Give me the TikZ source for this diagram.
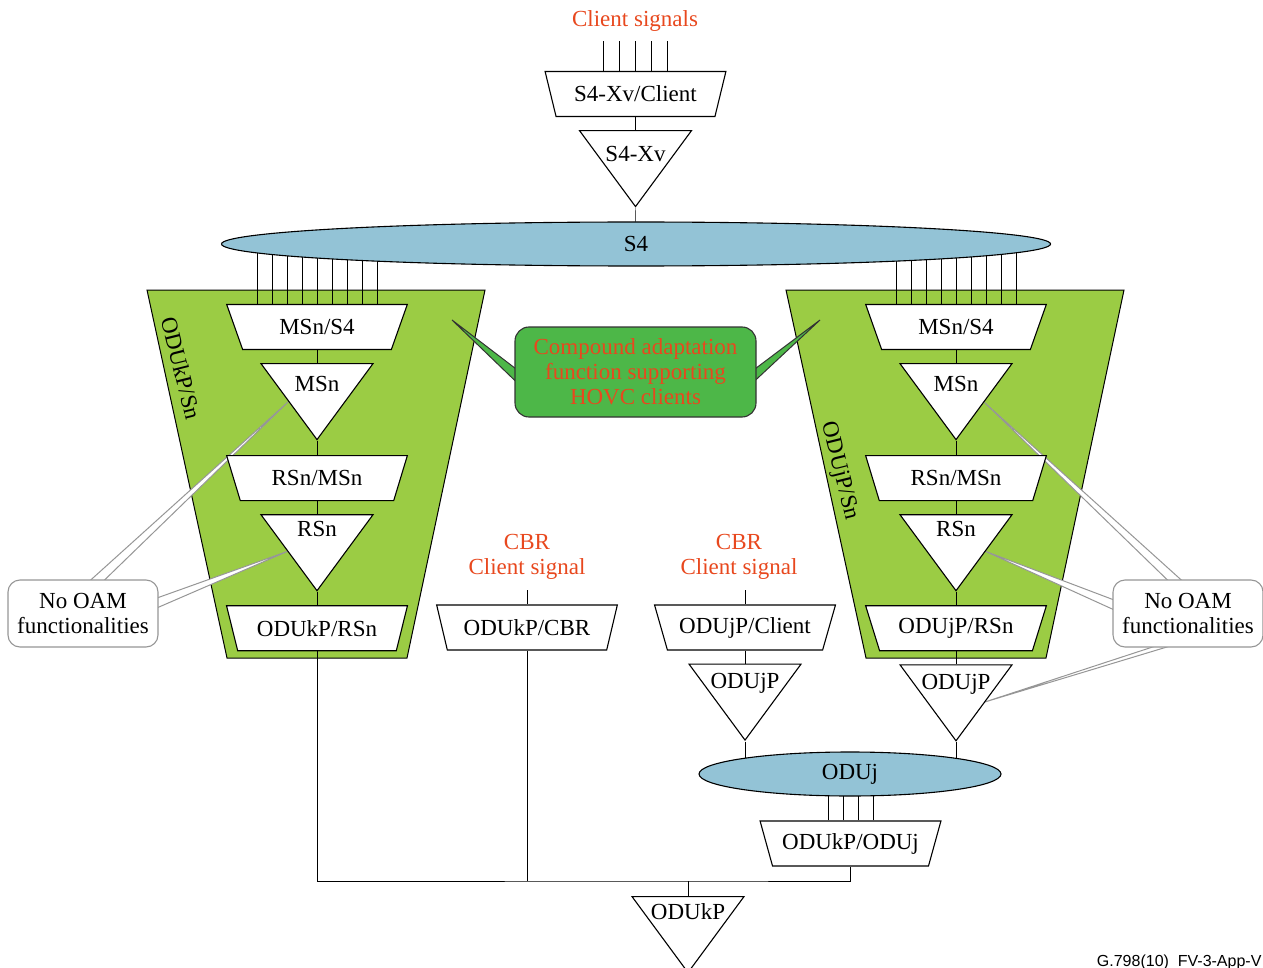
\documentclass[tikz,border=0pt]{standalone}
\usepackage{fontspec}
\setmainfont{Liberation Serif}
\newfontfamily\figfont{Liberation Sans}
\usetikzlibrary{shapes.geometric,positioning,calc}
\definecolor{s4blue}{RGB}{147,195,214}
\definecolor{odugreen}{RGB}{155,204,68}
\definecolor{hovcgreen}{RGB}{77,183,72}
\definecolor{sigred}{RGB}{232,72,30}
\definecolor{notegray}{RGB}{150,150,150}
\pgfdeclarelayer{background}
\pgfdeclarelayer{pointer}
\pgfsetlayers{background,pointer,main}

\begin{document}
\begin{tikzpicture}[x=1pt, y=-1pt, line width=1.1pt,
  every node/.style={font=\fontsize{23}{25}\selectfont, text=black},
  adapt/.style={draw, fill=white, trapezium, shape border rotate=180, trapezium angle=62.4, trapezium stretches=true, minimum width=181pt, minimum height=45pt, inner sep=0pt},
  term/.style={draw, fill=white, isosceles triangle, shape border rotate=270, isosceles triangle stretches, minimum width=112pt, minimum height=76pt, inner sep=0pt},
  pool/.style={draw, ellipse, fill=s4blue, inner sep=0pt, minimum height=44pt},
  sig/.style={text=sigred, align=center},
  lbl/.style={anchor=base, inner sep=0pt},
  note/.style={draw=notegray, fill=white, rectangle, rounded corners=12pt, align=center, minimum width=150pt, minimum height=67pt},
  wedge/.style={draw=notegray, fill=white, line width=1pt},
  spike/.style={draw=black!80, fill=hovcgreen, line width=1pt}
]
\useasboundingbox (0,0) rectangle (1263,968);

% top client layer
\node[sig] (clients) at (635,21) {Client signals};
\node[adapt] (s4xvc) at (635.5,94) {S4-Xv/Client};
\node[term, below=13pt of s4xvc] (s4xv) {};
\node[lbl] at ([yshift=-31pt]s4xv.north) {S4-Xv};
\node[pool, minimum width=829pt] (s4) at (636,244) {S4};

% ODUkP/Sn column
\node[adapt] (msnsL) at (317,327) {MSn/S4};
\node[term, below=13pt of msnsL] (msnL) {};
\node[lbl] at ([yshift=-28pt]msnL.north) {MSn};
\node[adapt, below=14pt of msnL] (rsnmsnL) {RSn/MSn};
\node[term, below=13pt of rsnmsnL] (rsnL) {};
\node[lbl] at ([yshift=-22pt]rsnL.north) {RSn};
\node[adapt, below=13pt of rsnL] (odukprsn) {ODUkP/RSn};
\node[rotate=-76] at (181,368) {ODUkP/Sn};

% ODUjP/Sn column
\node[adapt] (msnsR) at (956,327) {MSn/S4};
\node[term, below=13pt of msnsR] (msnR) {};
\node[lbl] at ([yshift=-28pt]msnR.north) {MSn};
\node[adapt, below=14pt of msnR] (rsnmsnR) {RSn/MSn};
\node[term, below=13pt of rsnmsnR] (rsnR) {};
\node[lbl] at ([yshift=-22pt]rsnR.north) {RSn};
\node[adapt, below=13pt of rsnR] (odujprsn) {ODUjP/RSn};
\node[term, below=13pt of odujprsn] (odujpR) {};
\node[lbl] at ([yshift=-25pt]odujpR.north) {ODUjP};
\node[rotate=-76] at (839,471) {ODUjP/Sn};

% CBR clients
\node[sig] (cbrL) at (527,556.5) {CBR\\Client signal};
\node[adapt] (odukpcbr) at (527,627.5) {ODUkP/CBR};
\node[sig] (cbrR) at (739,556.5) {CBR\\Client signal};
\node[adapt] (odujpc) at (745,627.5) {ODUjP/Client};
\node[term, below=13pt of odujpc] (odujpM) {};
\node[lbl] at ([yshift=-25pt]odujpM.north) {ODUjP};

% ODUj and ODUkP
\node[pool, minimum width=302pt] (oduj) at (850,774) {ODUj};
\node[adapt] (odukpoduj) at (850.5,843.5) {ODUkP/ODUj};
\node[term, anchor=north] (odukp) at (688,896) {};
\node[lbl] at ([yshift=-23pt]odukp.north) {ODUkP};
\coordinate (bus) at (688,881);

% notes
\node[note] (oamL) at (83,613.5) {No OAM\\functionalities};
\node[note] (oamR) at (1188,613.5) {No OAM\\functionalities};
\node[rectangle, draw=black!80, fill=hovcgreen, rounded corners=14pt, minimum width=241pt, minimum height=90pt, sig] (compound) at (635.5,372) {Compound adaptation\\function supporting\\HOVC clients};
\coordinate (hovctipL) at (452,320);
\coordinate (hovctipR) at (820,320);

\node[font=\figfont\fontsize{16}{18}\selectfont, anchor=base east, inner sep=0pt] (tag) at (1262,966) {G.798(10)\ \ FV-3-App-V};

\begin{pgfonlayer}{background}
  \filldraw[odugreen, draw=black, line width=1pt] (147,290) -- (485,290) -- (407,658) -- (227,658) -- cycle;
  \filldraw[odugreen, draw=black, line width=1pt] (786,290) -- (1124,290) -- (1046,658) -- (866,658) -- cycle;
  \foreach \dx in {-32,-16,...,32} {
    \path ($(s4xvc.north)+(\dx,0)$) coordinate (p);
    \draw (p) -- ++(0,-30);
  }
  \foreach \dx in {-60,-45,...,60} {
    \path ($(msnsL.north)+(\dx,0)$) coordinate (p);
    \draw (p) -- (p |- s4.center);
    \path ($(msnsR.north)+(\dx,0)$) coordinate (p);
    \draw (p) -- (p |- s4.center);
  }
  \foreach \dx in {-22.5,-7.5,7.5,22.5} {
    \path ($(odukpoduj.north)+(\dx,0)$) coordinate (p);
    \draw (p) -- (p |- oduj.center);
  }
  \draw (s4xvc.south) -- (s4xv.north);
  \draw (s4xv.south) -- (s4.center);
  \draw (msnsL.south) -- (msnL.north);
  \draw (msnL.south) -- (rsnmsnL.north);
  \draw (rsnmsnL.south) -- (rsnL.north);
  \draw (rsnL.south) -- (odukprsn.north);
  \draw (msnsR.south) -- (msnR.north);
  \draw (msnR.south) -- (rsnmsnR.north);
  \draw (rsnmsnR.south) -- (rsnR.north);
  \draw (rsnR.south) -- (odujprsn.north);
  \draw (odujprsn.south) -- (odujpR.north);
  \draw (odujpR.south) -- (odujpR.south |- oduj.center);
  \draw ([yshift=14pt]odukpcbr.north) -- (odukpcbr.north);
  \draw ([yshift=14pt]odujpc.north) -- (odujpc.north);
  \draw (odujpc.south) -- (odujpM.north);
  \draw (odujpM.south) -- (odujpM.south |- oduj.center);
  \draw (odukprsn.south) |- (bus) -| (odukpoduj.south);
  \draw (odukpcbr.south) -- (odukpcbr.south |- bus);
  \draw (bus) -- (odukp.north);
\end{pgfonlayer}

\begin{pgfonlayer}{pointer}
  \filldraw[wedge] ($(msnL.north)+(-28,38)$) -- ($(oamL.north)+(5,3)$) -- ($(oamL.north)+(19,3)$) -- cycle;
  \filldraw[wedge] ($(rsnL.north)+(-29,37)$) -- ($(oamL.east)+(-3,-15)$) -- ($(oamL.east)+(-3,-5)$) -- cycle;
  \filldraw[wedge] ($(msnR.north)+(28,39)$) -- ($(oamR.north)+(-18,3)$) -- ($(oamR.north)+(-4,3)$) -- cycle;
  \filldraw[wedge] ($(rsnR.north)+(29,37)$) -- ($(oamR.west)+(3,-13)$) -- ($(oamR.west)+(3,-3)$) -- cycle;
  \filldraw[wedge] ($(odujpR.north)+(28,38)$) -- ($(oamR.south)+(-28,-3)$) -- ($(oamR.south)+(-13,-3)$) -- cycle;
  \filldraw[spike] (hovctipL) -- ($(compound.west)+(3,-2)$) -- ($(compound.west)+(3,11)$) -- cycle;
  \filldraw[spike] (hovctipR) -- ($(compound.east)+(-3,-2)$) -- ($(compound.east)+(-3,10)$) -- cycle;
\end{pgfonlayer}
\end{tikzpicture}
\end{document}
